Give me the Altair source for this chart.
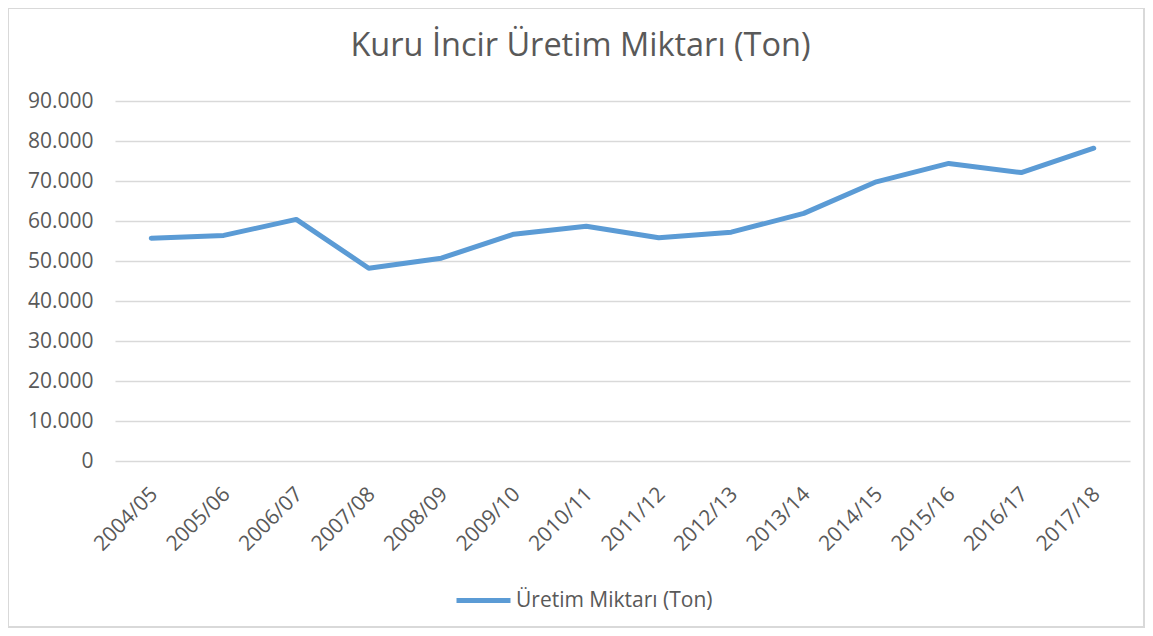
import altair as alt
import pandas as pd

seasons = ["2004/05", "2005/06", "2006/07", "2007/08", "2008/09", "2009/10", "2010/11",
           "2011/12", "2012/13", "2013/14", "2014/15", "2015/16", "2016/17", "2017/18"]
production = [55700, 56400, 60400, 48200, 50700, 56700, 58700,
              55800, 57200, 61900, 69800, 74400, 72100, 78200]
series_name = "Üretim Miktarı (Ton)"
title_text = "Kuru İncir Üretim Miktarı (Ton)"

df = pd.DataFrame({"season": seasons, "value": production, "series": series_name})

FONT = "Open Sans"
GRAY = "#595959"
W, H = 1015, 360
FS = 21

line = alt.Chart(df).mark_line(strokeWidth=5, strokeCap="round", strokeJoin="round").encode(
    x=alt.X("season:N", sort=seasons,
            scale=alt.Scale(type="point", padding=0.5),
            axis=alt.Axis(title=None, labelAngle=-45, labelAlign="right", labelBaseline="top",
                          labelFontSize=FS, labelColor=GRAY, labelFont=FONT,
                          ticks=False, domain=False, grid=False, labelPadding=22,
                          labelOffset=-5)),
    y=alt.Y("value:Q", scale=alt.Scale(domain=[0, 90000], nice=False),
            axis=alt.Axis(title=None, values=list(range(0, 90001, 10000)),
                          labelExpr="replace(format(datum.value, ',d'), ',', '.')",
                          labelFontSize=FS, labelColor=GRAY, labelFont=FONT,
                          ticks=False, domain=False, gridColor="#d9d9d9", gridWidth=1.3,
                          labelPadding=22)),
    color=alt.Color("series:N", scale=alt.Scale(range=["#5B9BD5"]),
                    legend=alt.Legend(title=None, orient="none", legendX=339, legendY=470,
                                      symbolType="stroke", symbolSize=2916, symbolStrokeWidth=5,
                                      labelFontSize=FS, labelColor=GRAY, labelFont=FONT,
                                      labelOffset=3, labelLimit=0)),
)

border = alt.Chart(df).mark_rect(fill=None, stroke="#d9d9d9", strokeWidth=1.5, clip=False).encode(
    x=alt.value(-107), x2=alt.value(W + 14), y=alt.value(-93), y2=alt.value(H + 166)
)

chart = alt.layer(border, line).properties(
    width=W, height=H,
    title=alt.TitleParams(title_text, fontSize=32.5, font=FONT, color=GRAY, fontWeight="normal",
                          anchor="middle", dx=-42, offset=-55),
    autosize=alt.AutoSizeParams(type="none"),
    padding={"left": 107, "top": 93, "right": 15, "bottom": 167},
).configure_view(stroke=None)

chart.save("out.html", embed_options={"renderer": "svg", "actions": False})
